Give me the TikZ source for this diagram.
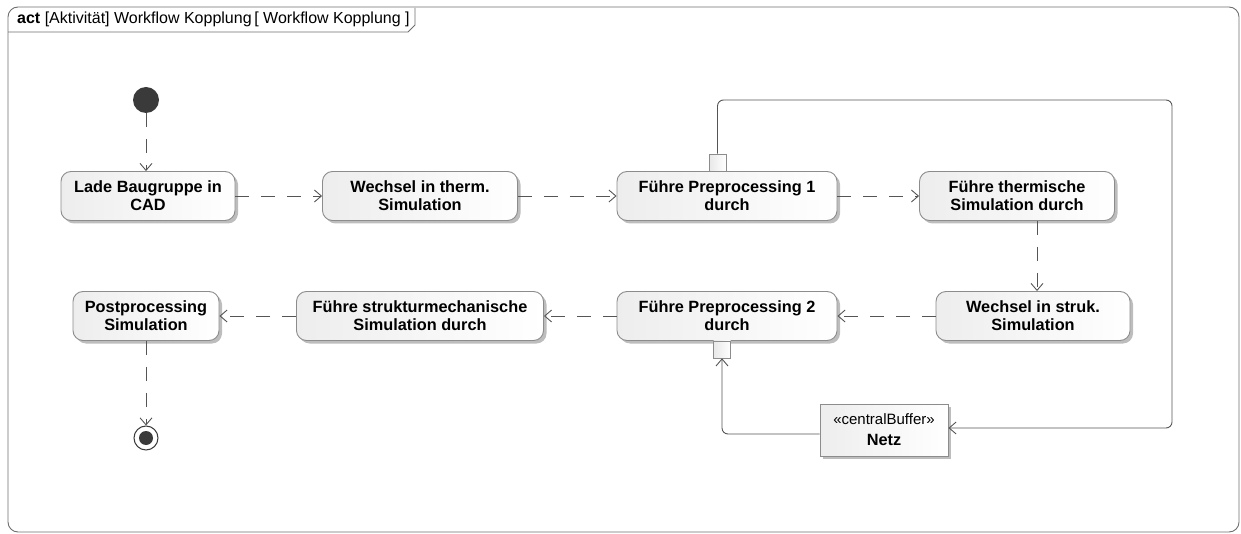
\documentclass[tikz,border=0pt]{standalone}
\usepackage{fontspec}
\setmainfont{Liberation Sans}
\usetikzlibrary{arrows.meta,shadows}

\definecolor{edgecol}{HTML}{555555}
\definecolor{boxline}{HTML}{8C8C8C}
\definecolor{framecol}{HTML}{6E6E6E}
\definecolor{dotcol}{HTML}{3A3A3A}

\tikzset{
  action/.style={draw=boxline, line width=0.9pt, rounded corners=10pt,
    left color=gray!14, right color=white, align=center,
    font=\fontsize{16.3}{18}\selectfont\bfseries, inner sep=2pt,
    minimum height=49pt,
    drop shadow={shadow xshift=3pt, shadow yshift=-3pt, fill=gray!60, opacity=0.85}},
  bufferbox/.style={draw=boxline, line width=0.9pt, rectangle,
    left color=gray!14, right color=white, align=center,
    inner sep=2pt, minimum width=128pt, minimum height=52pt,
    drop shadow={shadow xshift=3pt, shadow yshift=-3pt, fill=gray!60, opacity=0.85}},
  pinbox/.style={draw=boxline, line width=0.8pt, rectangle,
    left color=gray!18, right color=white, minimum size=17pt, inner sep=0pt},
  flow/.style={draw=edgecol, line width=0.9pt, dash pattern=on 14pt off 12pt,
    -{Straight Barb[length=7pt,width=12pt,line width=0.9pt]}},
  objflow/.style={draw=edgecol, line width=0.9pt, rounded corners=6pt,
    -{Straight Barb[length=7pt,width=12pt,line width=0.9pt]}},
}

\begin{document}
\begin{tikzpicture}[x=1pt,y=-1pt]
  \useasboundingbox (0,0) rectangle (1241,534);

  % diagram frame and title tab
  \draw[framecol, line width=0.9pt, rounded corners=10pt] (8,7) rectangle (1239,532);
  \draw[framecol, line width=0.9pt] (8,32) -- (408,32) -- (415,25) -- (415,8);
  \node[anchor=base west, inner sep=0pt, font=\fontsize{16}{18}\selectfont] (title) at (17,24)
    {\textbf{act} [Aktivität] Workflow Kopplung\,[ Workflow Kopplung ]};

  % initial and final nodes
  \node[circle, fill=dotcol, minimum size=26pt, inner sep=0pt] (start) at (146,100) {};
  \node[circle, draw=dotcol, line width=1pt, fill=white, minimum size=24pt, inner sep=0pt] (stop) at (146,438) {};
  \fill[dotcol] (stop.center) circle (7pt);

  % actions, upper row
  \node[action, minimum width=174pt] (lade)  at (148,196) {Lade Baugruppe in\\CAD};
  \node[action, minimum width=195pt] (wtherm) at (420,196) {Wechsel in therm.\\Simulation};
  \node[action, minimum width=220pt] (pp1)   at (727,196) {Führe Preprocessing 1\\durch};
  \node[action, minimum width=195pt] (therm) at (1017,196) {Führe thermische\\Simulation durch};

  % actions, lower row
  \node[action, minimum width=194pt] (wstruk) at (1033,316) {Wechsel in struk.\\Simulation};
  \node[action, minimum width=220pt] (pp2)   at (727,316) {Führe Preprocessing 2\\durch};
  \node[action, minimum width=247pt] (struk) at (420,316) {Führe strukturmechanische\\Simulation durch};
  \node[action, minimum width=146pt] (post)  at (146,316) {Postprocessing\\Simulation};

  % pins
  \node[pinbox, anchor=south] (pin1) at (717.5,171.5) {};
  \node[pinbox, anchor=north] (pin2) at (722,340.5) {};

  % central buffer
  \node[bufferbox] (netz) at (884,430)
    {\fontsize{15}{17}\selectfont «centralBuffer»\\[9pt]\fontsize{16.3}{18}\selectfont\bfseries Netz};

  % control flows
  \draw[flow] (start) -- (lade.north -| start);
  \draw[flow] (lade) -- (wtherm);
  \draw[flow] (wtherm) -- (pp1);
  \draw[flow] (pp1) -- (therm);
  \draw[flow] (therm.south -| 1037,0) -- (wstruk.north -| 1037,0);
  \draw[flow] (wstruk) -- (pp2);
  \draw[flow] (pp2) -- (struk);
  \draw[flow] (struk) -- (post);
  \draw[flow] (post.south) -- (stop);

  % object flows through the buffer
  \coordinate (loopA) at (717.5,100);
  \coordinate (loopB) at (1172,100);
  \coordinate (loopC) at (1172,428);
  \draw[objflow] (pin1.north) -- (loopA) -- (loopB) -- (loopC) -- (netz.east |- loopC);
  \coordinate (backA) at (722,434);
  \draw[objflow] (netz.west |- backA) -- (backA) -- (pin2.south);
\end{tikzpicture}
\end{document}
